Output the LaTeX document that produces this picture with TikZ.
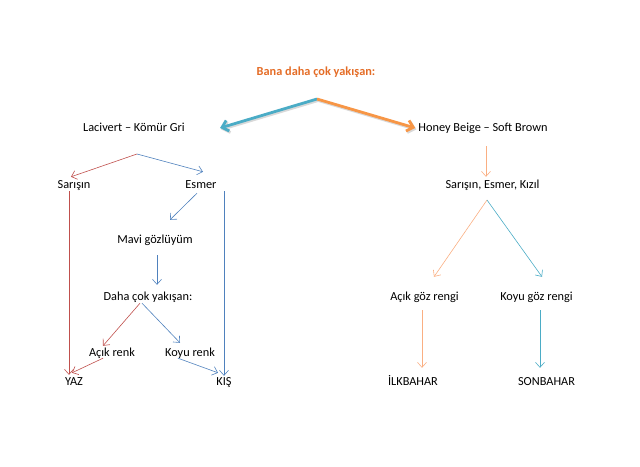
\documentclass[tikz,border=0pt]{standalone}
\usepackage{fontspec}
\setmainfont{Carlito}
\usetikzlibrary{arrows.meta}

\definecolor{titleorange}{RGB}{228,108,38}
\definecolor{tealblue}{RGB}{75,172,198}
\definecolor{softorange}{RGB}{247,150,70}
\definecolor{lightorange}{RGB}{250,175,130}
\definecolor{darkred}{RGB}{192,80,77}
\definecolor{steelblue}{RGB}{79,129,189}

\tikzset{
  lbl/.style={inner sep=1pt, text height=8pt, text depth=2pt, font=\fontsize{12.3}{14}\selectfont},
  thin arrow/.style={-{Straight Barb[length=5pt,width=9pt]}, line width=0.6pt},
  thick arrow/.style={-{Straight Barb[length=6pt,width=11pt]}, line width=2.8pt}
}

\begin{document}
\begin{tikzpicture}[x=1pt,y=-1pt]
\useasboundingbox (0,0) rectangle (640,466);

% title and first split
\node[lbl, text=titleorange, font=\fontsize{12.3}{14}\selectfont\bfseries] (title) at (316,72) {Bana daha çok yakışan:};
\coordinate (tsplit) at (317,99);

\node[lbl] (lac) at (134,128) {Lacivert -- Kömür Gri};
\node[lbl] (honey) at (483,128) {Honey Beige -- Soft Brown};

\draw[thick arrow, gray!30] ([shift={(1.2,1.5)}]tsplit) -- ([shift={(35.2,1.5)}]lac.east);
\draw[thick arrow, gray!30] ([shift={(1.2,1.5)}]tsplit) -- ([shift={(-0.8,1.5)}]honey.west);
\draw[thick arrow, tealblue] (tsplit) -- ([xshift=34pt]lac.east);
\draw[thick arrow, softorange] (tsplit) -- ([xshift=-2pt]honey.west);

% left side
\coordinate (lsplit) at (137,154);
\node[lbl] (sar) at (74,185) {Sarışın};
\node[lbl] (esm) at (201,185) {Esmer};
\node[lbl] (mavi) at (155,240) {Mavi gözlüyüm};
\node[lbl] (daha) at (148,297) {Daha çok yakışan:};
\node[lbl] (acik) at (112,353) {Açık renk};
\node[lbl] (koyu) at (190,353) {Koyu renk};
\node[lbl] (yaz) at (74,382) {YAZ};
\node[lbl] (kis) at (224,382) {KIŞ};

\draw[thin arrow, darkred] (lsplit) -- ([xshift=-3pt,yshift=2pt]sar.north);
\draw[thin arrow, steelblue] (lsplit) -- ([xshift=2pt,yshift=7pt]esm.north);
\draw[thin arrow, darkred] ([xshift=-5pt]sar.south) -- ([xshift=-5pt,yshift=1pt]yaz.north);
\draw[thin arrow, steelblue] (esm.south -| kis.north) -- (kis.north);
\draw[thin arrow, steelblue] ([xshift=-4pt,yshift=-2pt]esm.south) -- ([xshift=15pt,yshift=14pt]mavi.north);
\draw[thin arrow, steelblue] ([xshift=2pt,yshift=-9pt]mavi.south) -- ([xshift=9pt,yshift=6pt]daha.north);
\draw[thin arrow, darkred] ([xshift=-8pt]daha.south) -- ([xshift=-9pt,yshift=1pt]acik.north);
\draw[thin arrow, steelblue] ([xshift=-6pt]daha.south) -- ([xshift=-10pt,yshift=4pt]koyu.north);
\draw[thin arrow, darkred] ([xshift=-9pt,yshift=1pt]acik.south) -- ([xshift=-2pt,yshift=3pt]yaz.north);
\draw[thin arrow, steelblue] ([xshift=-12pt,yshift=1pt]koyu.south) -- ([xshift=-6pt,yshift=3pt]kis.north);

% right side
\node[lbl] (sek) at (492.5,185) {Sarışın, Esmer, Kızıl};
\coordinate (rsplit) at (487,200);
\node[lbl] (acg) at (424.5,297) {Açık göz rengi};
\node[lbl] (kog) at (536.5,297) {Koyu göz rengi};
\node[lbl] (ilk) at (413,382) {İLKBAHAR};
\node[lbl] (son) at (546.5,382) {SONBAHAR};

\draw[thin arrow, lightorange] ([xshift=3pt,yshift=-12pt]honey.south) -- ([xshift=-6.5pt,yshift=2pt]sek.north);
\draw[thin arrow, lightorange] (rsplit) -- ([xshift=9.5pt,yshift=14pt]acg.north);
\draw[thin arrow, tealblue] (rsplit) -- ([xshift=5.5pt,yshift=14pt]kog.north);
\draw[thin arrow, lightorange] ([xshift=-2.5pt,yshift=-7pt]acg.south) -- ([xshift=9pt,yshift=8pt]ilk.north);
\draw[thin arrow, tealblue] ([xshift=3.5pt,yshift=-7pt]kog.south) -- ([xshift=-6.5pt,yshift=8pt]son.north);

\end{tikzpicture}
\end{document}
